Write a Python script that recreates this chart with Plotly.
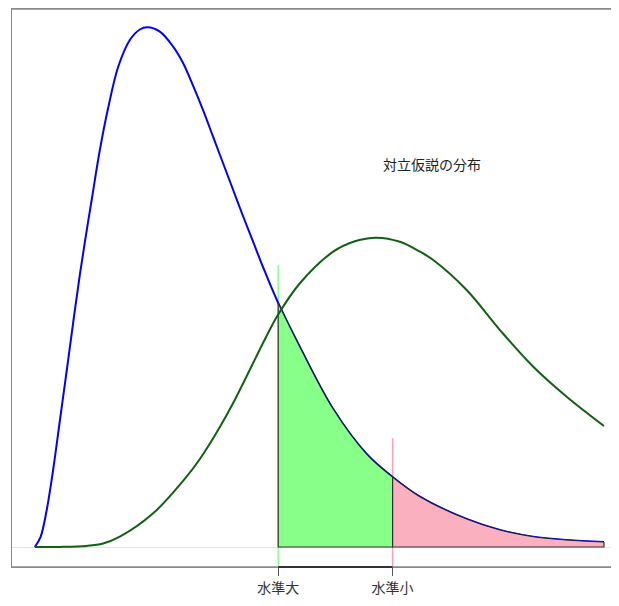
import plotly.graph_objects as go
import numpy as np

# Null distribution (blue)
null_x = [0.0, 0.0501, 0.1028, 0.1608, 0.2197, 0.2786, 0.3366, 0.3954, 0.4482, 0.5009,
          0.5712, 0.6441, 0.7320, 0.8348, 0.9227, 0.9886, 1.0984, 1.2153, 1.3032, 1.3910,
          1.4789, 1.5668, 1.6547, 1.7425, 1.8304, 1.9183, 2.0061, 2.1380, 2.3286, 2.6213,
          2.9148, 3.1432, 3.3831, 3.7935, 4.0861, 4.3787, 4.6722, 5.0000]
null_y = [0.0, 0.0135, 0.0486, 0.1041, 0.1703, 0.2365, 0.3027, 0.3676, 0.4203, 0.4703,
          0.5365, 0.5932, 0.6486, 0.6851, 0.6993, 0.7023, 0.6964, 0.6761, 0.6536, 0.6230,
          0.5899, 0.5541, 0.5182, 0.4824, 0.4466, 0.4122, 0.3777, 0.3297, 0.2703, 0.1865,
          0.1257, 0.0946, 0.0680, 0.0378, 0.0230, 0.0139, 0.0095, 0.0068]

# Alternative distribution (dark green)
alt_x = [0.0, 0.2197, 0.4543, 0.6002, 0.7469, 1.0395, 1.3330, 1.4499, 1.6257, 1.7425,
         2.0360, 2.1353, 2.3286, 2.6213, 2.8120, 3.0026, 3.2074, 3.3831, 3.5000, 3.7935,
         4.0861, 4.3787, 4.6722, 5.0000]
alt_y = [0.0, 0.0001, 0.0014, 0.0047, 0.0139, 0.0455, 0.0950, 0.1189, 0.1622, 0.1946,
         0.2851, 0.3135, 0.3564, 0.3991, 0.4132, 0.4180, 0.4124, 0.3991, 0.3878, 0.3473,
         0.2932, 0.2436, 0.2031, 0.1635]

# Critical values and labels
crit_vals = [2.1380, 3.1432]
crit_labels = ["水準大", "水準小"]
crit_line_tops = [0.381, 0.147]
crit_line_colors = ["#88ff88", "#ffa0b4"]
fill_colors = ["#88ff88", "#fbb0c0"]

label_text = "対立仮説の分布"
label_pos = (3.489, 0.5176)

x_range = [-0.2004, 5.1318]
y_range = [-0.0270, 0.7270]

nx = np.array(null_x)
ny = np.array(null_y)

fig = go.Figure()

# vertical critical lines (below polygons)
for cv, top, col in zip(crit_vals, crit_line_tops, crit_line_colors):
    fig.add_trace(go.Scatter(x=[cv, cv], y=[y_range[0], top], mode="lines",
                             line=dict(color=col, width=1.5), hoverinfo="skip",
                             showlegend=False, cliponaxis=False))

# null curve
fig.add_trace(go.Scatter(x=null_x, y=null_y, mode="lines", line_shape="spline",
                         line=dict(color="#0000ff", width=2), showlegend=False))

# shaded regions
bounds = [(crit_vals[0], crit_vals[1]), (crit_vals[1], nx.max())]
for (a, b), col in zip(bounds, fill_colors):
    m = (nx >= a - 1e-9) & (nx <= b + 1e-9)
    xs = nx[m]
    ys = ny[m]
    fig.add_trace(go.Scatter(x=xs, y=ys, mode="lines", line_shape="spline",
                             fill="tozeroy", fillcolor=col,
                             line=dict(color="#1c1c40", width=1.2),
                             showlegend=False, hoverinfo="skip"))
    fig.add_trace(go.Scatter(x=[xs[0], xs[0], xs[-1], xs[-1]], y=[ys[0], 0, 0, ys[-1]],
                             mode="lines", line=dict(color="#333333", width=1.2),
                             showlegend=False, hoverinfo="skip"))

# alternative curve
fig.add_trace(go.Scatter(x=alt_x, y=alt_y, mode="lines", line_shape="spline",
                         line=dict(color="#135f13", width=2), showlegend=False))

# dark axis segment between ticks
fig.add_shape(type="line", xref="x", yref="paper", x0=crit_vals[0], x1=crit_vals[1],
              y0=0, y1=0, line=dict(color="#333333", width=2))

# frame lines (top and bottom) running to the right edge
for yy in (0, 1):
    fig.add_shape(type="line", xref="paper", yref="paper", x0=0, x1=1.05,
                  y0=yy, y1=yy, line=dict(color="#8a8a8a", width=1.3), layer="below")

fig.add_annotation(x=label_pos[0], y=label_pos[1], text=label_text, showarrow=False,
                   font=dict(size=14, color="#222222", family="Noto Sans CJK JP"))

fig.update_layout(
    width=611, height=590,
    margin=dict(l=4, r=0, t=1, b=31),
    paper_bgcolor="white", plot_bgcolor="white",
    font=dict(family="Noto Sans CJK JP", size=14, color="#333333"),
    xaxis=dict(range=x_range, showgrid=False, zeroline=False,
               showline=True, linecolor="#8a8a8a", linewidth=1.3, mirror=True,
               tickmode="array", tickvals=crit_vals, ticktext=crit_labels,
               ticks="outside", ticklen=8, tickcolor="#555555", tickwidth=1.3,
               tickfont=dict(size=14, color="#333333")),
    yaxis=dict(range=y_range, showgrid=False, showticklabels=False, ticks="",
               zeroline=True, zerolinecolor="#e3e3e3", zerolinewidth=1.2,
               showline=True, linecolor="#8a8a8a", linewidth=1.3),
)

fig.write_html("out.html")
